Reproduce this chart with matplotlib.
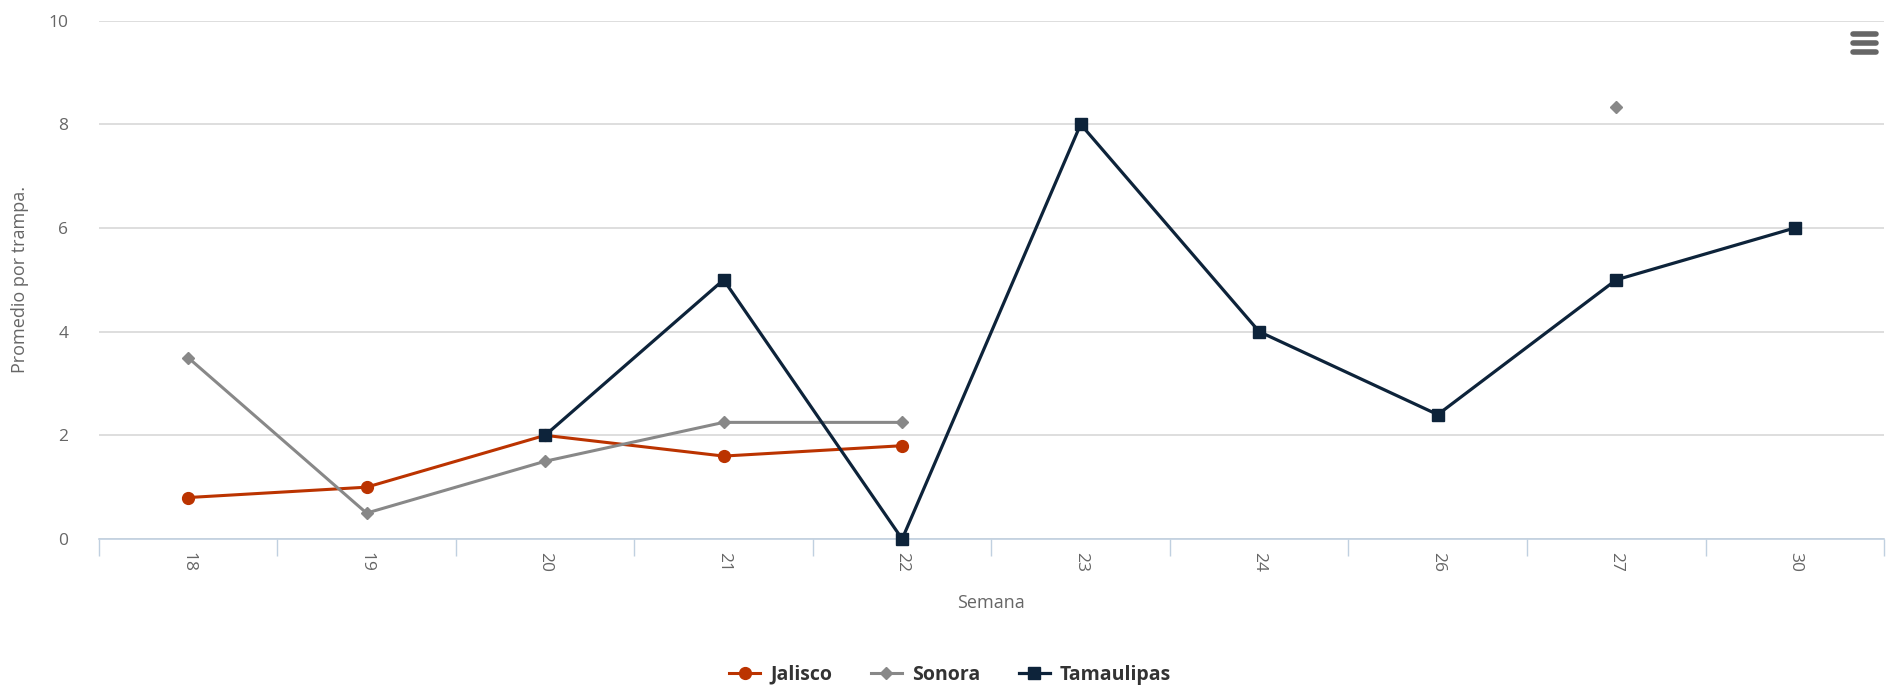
#!/usr/bin/env python3
# -*- coding: utf-8 -*-

import numpy as np
import matplotlib
matplotlib.use("Agg")
import matplotlib.pyplot as plt
from matplotlib.lines import Line2D

plt.rcParams['font.family'] = ['Open Sans', 'DejaVu Sans']

WEEKS = ["18", "19", "20", "21", "22", "23", "24", "26", "27", "30"]
NAN = np.nan

JALISCO = [0.8, 1.0, 2.0, 1.6, 1.8, NAN, NAN, NAN, NAN, NAN]
SONORA = [3.5, 0.5, 1.5, 2.25, 2.25, NAN, NAN, NAN, 8.33, NAN]
TAMAULIPAS = [NAN, NAN, 2.0, 5.0, 0.0, 8.0, 4.0, 2.4, 5.0, 6.0]

PLOT = {
    "Jalisco":    {"color": "#BB3300", "marker": "o", "markersize": 8.5, "linewidth": 2.2},
    "Sonora":     {"color": "#888888", "marker": "D", "markersize": 6.5, "linewidth": 2.2},
    "Tamaulipas": {"color": "#0D233A", "marker": "s", "markersize": 8, "linewidth": 2.3},
}

TICKLBLSIZE = 12.5
AXISLBLSIZE = 13
LEGENDSIZE = 14
TXTCOLOR = "#666666"
AXCOLOR = "#C0D0E0"


def main():
    fig = plt.figure(figsize=(19, 6.87), dpi=100)
    ax = fig.add_axes([0.052, 0.2154, 0.9396, 0.7546])

    x = np.arange(len(WEEKS))
    for name, vals in (("Jalisco", JALISCO), ("Sonora", SONORA), ("Tamaulipas", TAMAULIPAS)):
        ax.plot(x, vals, label=name, **PLOT[name], zorder=3, clip_on=False)

    ax.set_xlim(-0.5, len(WEEKS) - 0.5)
    ax.set_ylim(0, 10)
    ax.set_yticks(np.arange(0, 11, 2))
    ax.set_yticklabels([str(v) for v in range(0, 11, 2)], size=TICKLBLSIZE, color=TXTCOLOR)
    ax.yaxis.grid(True, color="#D8D8D8", linewidth=1.2)
    ax.set_axisbelow(True)
    ax.tick_params(axis="y", length=0, pad=22)

    # category boundaries carry the tick marks, labels sit in the middle
    ax.set_xticks(np.arange(-0.5, len(WEEKS)), minor=False)
    ax.set_xticklabels([])
    ax.set_xticks(x, minor=True)
    ax.set_xticklabels(WEEKS, minor=True, rotation=-90, size=TICKLBLSIZE, color=TXTCOLOR)
    ax.tick_params(axis="x", which="major", length=12, width=1, color=AXCOLOR)
    ax.tick_params(axis="x", which="minor", length=0, pad=9)

    for s in ("top", "right", "left"):
        ax.spines[s].set_visible(False)
    ax.spines["bottom"].set_color(AXCOLOR)
    ax.spines["bottom"].set_linewidth(1.2)

    ax.set_xlabel("Semana", size=AXISLBLSIZE, color=TXTCOLOR, labelpad=16)
    ax.set_ylabel("Promedio por trampa.", size=AXISLBLSIZE, color=TXTCOLOR, labelpad=14)

    leg = fig.legend(loc="lower center", bbox_to_anchor=(0.5, -0.022), ncol=3, frameon=False,
                     handlelength=1.6, columnspacing=2.0, handletextpad=0.5,
                     prop={"size": LEGENDSIZE, "weight": "bold"})
    for t in leg.get_texts():
        t.set_color("#333333")

    # export menu icon
    for yy in (0.950, 0.937, 0.924):
        fig.add_artist(Line2D([0.9755, 0.9875], [yy, yy], color="#666666", linewidth=4,
                              solid_capstyle="round"))

    plt.savefig("out.png", dpi=100)
    plt.close()


if __name__ == "__main__":
    main()
